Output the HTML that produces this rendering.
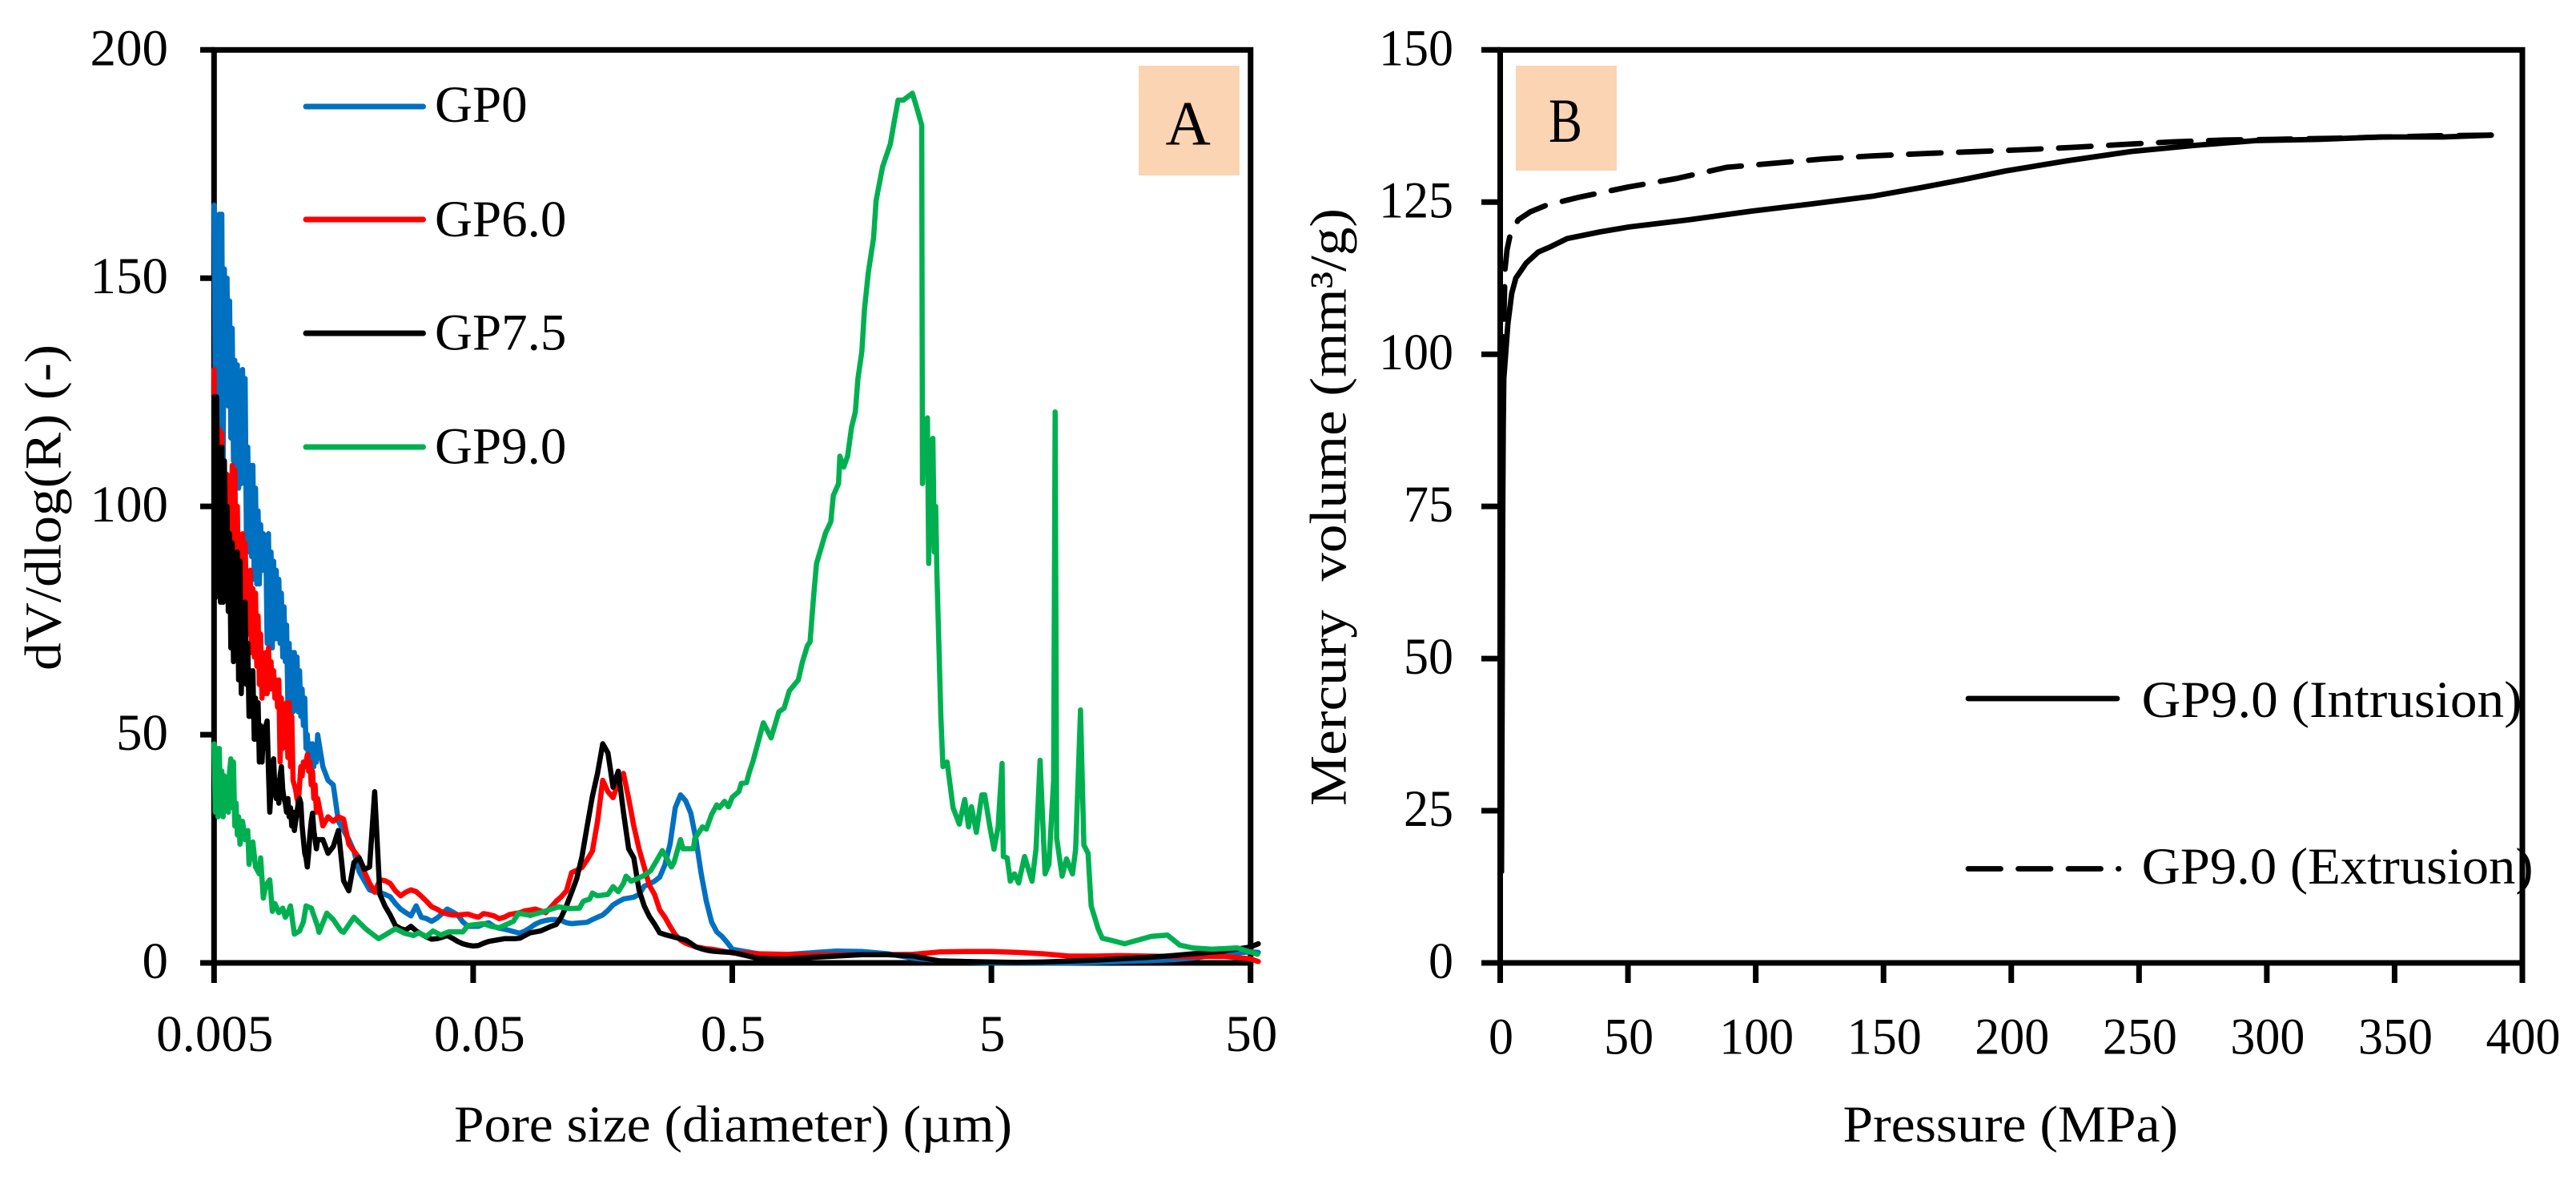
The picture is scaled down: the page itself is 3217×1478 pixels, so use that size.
<!DOCTYPE html>
<html lang="en">
<head>
<meta charset="utf-8">
<title>Pore size distribution and mercury intrusion</title>
<style>
html,body{margin:0;padding:0;background:#fff;}
svg{display:block;}
text{font-family:"Liberation Serif",serif;font-size:65px;fill:#000;}
</style>
</head>
<body>
<svg id="figure" xmlns="http://www.w3.org/2000/svg" width="3217" height="1478" viewBox="0 0 3217 1478">
  <rect x="0" y="0" width="3217" height="1478" fill="#fff"/>

  <g id="chart-a">
    <g id="a-ticks"></g>
    <rect x="267.3" y="62.3" width="1294.5" height="1139.7" fill="none" stroke="#000" stroke-width="7"/>
    <rect x="1422" y="82" width="126" height="137" fill="#fbd4b4"/>
    <text x="1483.7" y="180.7" text-anchor="middle" style="font-size:78px">A</text>
    <g id="a-series"></g>
    <g>
      <line x1="382" y1="133" x2="528.5" y2="133" stroke="#0070c0" stroke-width="7" stroke-linecap="round"/>
      <text x="543" y="152">GP0</text>
      <line x1="382" y1="274" x2="528.5" y2="274" stroke="#ff0000" stroke-width="7" stroke-linecap="round"/>
      <text x="543" y="295">GP6.0</text>
      <line x1="382" y1="416" x2="528.5" y2="416" stroke="#000" stroke-width="7" stroke-linecap="round"/>
      <text x="543" y="436.5">GP7.5</text>
      <line x1="382" y1="558" x2="528.5" y2="558" stroke="#00b050" stroke-width="7" stroke-linecap="round"/>
      <text x="543" y="578.5">GP9.0</text>
    </g>
    <text transform="translate(75.5,837) rotate(-90)" textLength="407" lengthAdjust="spacingAndGlyphs">dV/dlog(R) (-)</text>
    <text x="567" y="1425" textLength="697" lengthAdjust="spacingAndGlyphs">Pore size (diameter) (µm)</text>
  </g>

  <g id="chart-b">
    <g id="b-ticks"></g>
    <rect x="1873.5" y="62.3" width="1276.5" height="1139.7" fill="none" stroke="#000" stroke-width="7"/>
    <rect x="1893" y="82" width="126" height="131" fill="#fbd4b4"/>
    <text x="1955" y="177" text-anchor="middle" style="font-size:78px" textLength="42" lengthAdjust="spacingAndGlyphs">B</text>
    <g id="b-series"></g>
    <g>
      <line x1="2458" y1="872" x2="2644" y2="872" stroke="#000" stroke-width="6.8" stroke-linecap="round"/>
      <text x="2674.6" y="895" textLength="475" lengthAdjust="spacingAndGlyphs">GP9.0 (Intrusion)</text>
      <line x1="2458" y1="1084.5" x2="2646" y2="1084.5" stroke="#000" stroke-width="6.8" stroke-linecap="round" stroke-dasharray="40.5 22"/>
      <text x="2674.6" y="1103" textLength="489" lengthAdjust="spacingAndGlyphs">GP9.0 (Extrusion)</text>
    </g>
    <text transform="translate(1680.6,1006) rotate(-90)" textLength="746" lengthAdjust="spacingAndGlyphs" style="white-space:pre">Mercury  volume (mm³/g)</text>
    <text x="2301.5" y="1425" textLength="418.5" lengthAdjust="spacingAndGlyphs">Pressure (MPa)</text>
  </g>
</svg>

<script>
// Chart A: x values are decades above 0.005 µm, i.e. log10(diameter / 0.005)
const poreDecades = [
0,.005,.01,.015,.02,.025,.03,.035,.04,.045,
.05,.055,.06,.065,.07,.075,.08,.085,.09,.095,
.1,.105,.11,.115,.12,.125,.13,.135,.14,.145,
.15,.155,.16,.165,.17,.175,.18,.185,.19,.195,
.2,.205,.21,.215,.22,.225,.23,.235,.24,.245,
.25,.255,.26,.265,.27,.275,.28,.285,.29,.295,
.3,.305,.31,.315,.32,.325,.33,.335,.34,.345,
.35,.355,.36,.365,.37,.375,.38,.385,.39,.395,
.4,
.42,.44,.46,.48,.5,.52,.54,.56,.58,.6,
.62,.64,.66,.68,.7,.72,.74,.76,.78,.8,
.82,.84,.86,.88,.9,.92,.94,.96,.98,1,
1.02,1.04,1.06,1.08,1.1,1.12,1.14,1.16,1.18,1.2,
1.22,1.24,1.26,1.28,1.3,1.32,1.34,1.36,1.38,1.4,
1.42,1.44,1.46,1.48,1.5,1.52,1.54,1.56,1.58,1.6,
1.62,1.64,1.66,1.68,1.7,1.72,1.74,1.76,1.78,1.8,
1.82,1.84,1.86,1.88,1.9,1.92,1.94,1.96,1.98,2,
2.1,2.2,2.3,2.4,2.5,2.6,2.7,2.8,2.9,3,3.1,3.2,3.3,3.4,3.5,3.6,3.7,3.8,3.9,4,4.03
];
const gp0Values = [
166,125,158,120,164,110,164,108,152,124,
150,122,145,115,139,110,132,108,131,104,
128,105,130,115,128,92,113,90,109,89,
109,84,104,83,99,83,96,86,94,86,
92,70,94,69,90,69,88,71,86,71,
84,70,81,67,78,66,74,57,70,56,
68,55,68,57,67,55,64,54,60,52,
58,47,50,44,48,43,48,43,46,44,
50,
43,40,39,31,29,27,24.5,20,18,16,
15.6,15.4,15,14.5,13,11.8,11,10.3,12.5,10,
9.7,9.1,9.8,10.8,11.8,11.2,10.5,9,8,8,
8,8.5,8.8,8,7.6,7.4,7.1,6.8,6.5,7,
7.7,8.5,9,9.3,9.5,9.5,9.3,8.8,8.6,8.7,
8.8,8.9,9.5,10,10.5,11.5,12.7,13.4,14,14.2,
14.4,15,16.8,17.3,17.9,18.8,21.5,26,34,36.8,
35.5,32.8,27,19.5,13.5,9,6.8,5.8,4.5,3,
2,1.8,2.2,2.6,2.5,2,1,.5,.3,0,0,0,0,.1,.3,.5,.7,1.2,2,2.4,2.3
];
const gp6Values = [
130,96,118,90,117,92,116,86,107,88,
107,92,106,80,109,85,108,87,100,78,
90,74,94,80,92,79,84,72,86,68,
82,67,81,65,76,61,72,58,66,59,
68,59,69,60,66,60,64,58,62,56,
62,44,58,47,52,48,57,45,57,43,
54,40,39,38,36,35,39,43,41,44,
43,44,45.6,42,44,39,42,36,39,33,
36,
30,32,31,32,31.5,26,24.5,23,20,17.5,
15.5,18.2,18,17.4,15.8,14.7,15.5,16,15.6,14.6,
13.5,12.3,11.8,11.1,10.7,10.5,10.5,10.6,10.7,10.3,
10,10.8,10.6,10.3,9.7,10,10.6,10.8,11,11.4,
11.6,11.8,11.4,11,12.2,13.5,14.5,15.8,19.8,20.3,
20.9,22.6,24.5,31,40,37.5,36.2,39.5,41.5,36,
30,25,21,17,15,11.6,10,8,6.2,5,
4.3,3.9,3.5,3.3,3.1,3,2.8,2.6,2.4,2.2,
2,1.9,1.8,1.8,1.8,1.8,1.9,2.4,2.5,2.5,2.3,2,1.5,1.5,1.6,1.5,1.4,1.4,1.4,.9,.3
];
const gp75Values = [
124,80,124,83,108,79,113,79,110,85,
100,77,94,69,92,66,85,70,90,62,
88,59,72,62,79,61,70,54,64,54,
64,49,58,49,57,44,52,44,50,47,
52,53,42,33,38,43,44.7,38,36,40,
35,41,43,38,36,35,33,36,32,34,
30,33,29,31,33,35,36,35,30,27,
24,23,21,24,28,31,32.8,29,27,25,
27,
27,24,25.5,29,18,15.8,22,23,20.5,21,
37.5,15,12.4,10.5,8.2,7.5,7.2,8,7,6.3,
5.7,5.2,5.3,5.6,6,5.4,4.7,4.2,3.9,3.7,
3.8,4.3,4.7,4.9,5.1,5.3,5.3,5.3,5.4,6,
6.6,6.8,7,7.5,8,8.4,10,12.5,15.5,18.5,
23.3,30,36.5,41.5,48,46,38.5,42,33,25,
23,16,12.5,10.2,8.5,6.6,6.2,5.9,5.6,5.3,
5,4.3,3.5,3.1,2.8,2.6,2.5,2.4,2.35,2.3,
1,.8,1.2,1.5,1.8,1.8,1.5,.4,.3,.2,.1,.2,.4,.6,.9,1.2,1.6,2.1,2.6,3.5,4.2
];
const gp9PoreDecades = [
0,.005,.01,.015,.02,.025,.03,.035,.04,.045,
.05,.055,.06,.065,.07,.075,.08,.085,.09,.095,
.1,.11,.12,.13,.135,.145,.15,.16,.175,.18,
.19,.2,.215,.225,.235,.25,.265,.275,.285,.295,
.31,.33,.345,.355,.375,.4,.405,.435,.46,.49,
.5,.54,.585,.6,.635,.66,.7,.735,.77,.79,
.82,.845,.875,.905,.96,.98,1.04,1.07,1.1,1.155,
1.175,1.22,1.27,1.33,1.37,1.41,1.425,1.45,1.46,1.48,
1.52,1.54,1.56,1.58,1.59,1.61,1.655,1.685,1.71,1.73,
1.75,1.765,1.775,1.8,1.81,1.85,1.855,1.885,1.9,1.92,
1.94,1.95,1.97,1.985,2,2.025,2.035,2.055,2.065,2.08,
2.1,2.12,2.15,2.18,2.2,2.22,2.255,2.27,2.29,2.3,
2.315,2.325,2.36,2.38,2.39,2.41,2.415,2.43,2.445,2.46,
2.475,2.485,2.5,2.51,2.525,2.545,2.555,2.58,2.61,2.625,
2.64,2.66,2.695,2.71,2.731,2.734,2.74,2.745,2.753,2.758,
2.765,2.774,2.78,2.785,2.79,2.797,2.805,2.813,2.829,2.852,
2.876,2.897,2.912,2.923,2.942,2.963,2.974,2.994,3.01,3.026,
3.041,3.046,3.061,3.073,3.089,3.105,3.128,3.157,3.172,3.188,
3.207,3.222,3.24,3.246,3.252,3.273,3.29,3.313,3.325,3.344,
3.357,3.373,3.385,3.412,3.428,3.459,3.514,3.617,3.679,3.727,
3.775,3.852,3.948,4.027
];
const gp9Values = [
48,33,47,32,47,34,42,32,41,34,
40,33,42,44.7,34,44,30,35,28,32,
26,31,27,29,21.6,26,26.5,21,19.5,23,
14.2,17,18.2,11.3,13,11,12,10,11,12.5,
6.3,7,9,12.5,12,8,6.7,10.9,9.5,7,
6.7,10,7.5,6.8,5.3,6.1,7.5,6.5,6,6.6,
5.8,7,6.1,6.8,6.8,8.2,8.6,8,7.7,9.1,
10.9,10.4,11.2,12.3,11.9,12,13.5,14,15.3,14.7,
15,16.7,15.6,17.4,19,17.9,19,20.2,22.6,24.6,
22.6,21,22,27,25,25,27.2,29.8,29.3,32.5,
34.6,34,35.4,34.2,36.3,37.5,39.3,39.5,41.6,44.2,
48.4,52.6,49.3,55,55.8,59.6,62,65.8,69.5,70.3,
81,87.5,94.2,96.6,102.4,105,111,108.6,111,117.3,
120.7,128,133.9,143,151.3,158.7,167,174.4,179.4,184.4,
189,189,190.5,187.7,183.5,105,118,108,119.4,87.5,
110,114.9,90,100,85,70.3,53.9,43,44,34,
30.4,35.8,29.8,34.2,28.6,36.8,36.8,29.8,24.9,29.8,
43.7,23.3,23,17.9,19.5,17.5,23.3,17.9,24.9,44.4,
19.5,21.6,40,120.7,27.4,19,22.8,19.5,24.9,55.4,
25.8,24,12.5,7.5,5.4,5,4.2,5.8,6.1,3.9,
3.3,3,3.3,1.9
];
const aYTicks = [0, 50, 100, 150, 200];
const aXTickDecades = [0, 1, 2, 3, 4];
const aXTickLabels = ["0.005", "0.05", "0.5", "5", "50"];

// Chart B
const intrusionPressure = [
.5,.8,1,1.2,1.4,2.2,3,4.5,6.1,10.2,14.9,19.9,26.2,39,50.3,74.1,98.2,122,146.2,165,
181.3,197.6,222,246.6,271.2,295.7,320,344.5,369,387.8
];
const intrusionVolume = [
15,50,75,88,96,100.4,105,110,112.5,115,116.8,117.7,119,120.1,120.9,122.1,123.5,124.7,126,127.4,
128.7,130.1,131.8,133.3,134.3,135.1,135.3,135.7,135.7,136
];
const extrusionPressure = [
387.8,367.4,328.2,302,283.4,263.7,244.9,224.5,205,186.3,167.5,146.2,126.9,107.6,88.5,
69.4,50.3,30.9,18.2,11.8,7.1,4.1,2.7,1.9,1.4,1
];
const extrusionVolume = [
136,135.9,135.5,135.3,135.2,134.9,134.5,134,133.6,133.3,133,132.6,132.1,131.4,130.7,
128.9,127.5,125.8,124.5,123.4,122.1,120,117.2,114.1,105.4,100
];
const bYTicks = [0, 25, 50, 75, 100, 125, 150];
const bXTicks = [0, 50, 100, 150, 200, 250, 300, 350, 400];

const SVG_NS = 'http://www.w3.org/2000/svg';
const PLOT_TOP = 62.3, PLOT_BOTTOM = 1202;
const A_LEFT = 267.3, A_RIGHT = 1561.7, B_LEFT = 1873.5, B_RIGHT = 3150;

function xA(decades) { return A_LEFT + decades / 4 * (A_RIGHT - A_LEFT); }
function yA(value) { return PLOT_BOTTOM - value / 200 * (PLOT_BOTTOM - PLOT_TOP); }
function xB(pressure) { return B_LEFT + pressure / 400 * (B_RIGHT - B_LEFT); }
function yB(volume) { return PLOT_BOTTOM - volume / 150 * (PLOT_BOTTOM - PLOT_TOP); }

function pathFrom(xs, ys, xFn, yFn) {
  let d = '';
  const n = Math.min(xs.length, ys.length);
  for (let i = 0; i < n; i++) {
    d += (i ? 'L' : 'M') + xFn(xs[i]).toFixed(1) + ' ' + yFn(ys[i]).toFixed(1);
  }
  return d;
}
function styleLine(el, x1, y1, x2, y2) {
  el.setAttribute('x1', x1);
  el.setAttribute('y1', y1);
  el.setAttribute('x2', x2);
  el.setAttribute('y2', y2);
  el.setAttribute('stroke', '#000');
  el.setAttribute('stroke-width', 7);
}

const aTicks = document.getElementById('a-ticks');
const bTicks = document.getElementById('b-ticks');
const aSeries = document.getElementById('a-series');
const bSeries = document.getElementById('b-series');

// Chart A ticks
aYTicks.forEach(function (v) {
  const tick = document.createElementNS(SVG_NS, 'line');
  
  
  styleLine(tick, 250, yA(v), A_LEFT, yA(v));
  aTicks.appendChild(tick);
  const label = document.createElementNS(SVG_NS, 'text');
  
  
  label.setAttribute('x', 210);
  label.setAttribute('y', yA(v) + 19);
  label.setAttribute('text-anchor', 'end');
  label.textContent = String(v);
  aTicks.appendChild(label);
});
aXTickDecades.forEach(function (v, i) {
  const tick = document.createElementNS(SVG_NS, 'line');
  
  
  styleLine(tick, xA(v), PLOT_BOTTOM, xA(v), 1227);
  aTicks.appendChild(tick);
  const label = document.createElementNS(SVG_NS, 'text');
  
  
  label.setAttribute('x', xA(v) + (i === 1 ? 8 : 1));
  label.setAttribute('y', 1312);
  label.setAttribute('text-anchor', 'middle');
  label.textContent = aXTickLabels[i];
  aTicks.appendChild(label);
});

// Chart A series (drawing order: blue, red, black, green)
const gp0Line = document.createElementNS(SVG_NS, 'path');


gp0Line.setAttribute('d', pathFrom(poreDecades, gp0Values, xA, yA));
gp0Line.setAttribute('stroke', '#0070c0');
aSeries.appendChild(gp0Line);

const gp6Line = document.createElementNS(SVG_NS, 'path');


gp6Line.setAttribute('d', pathFrom(poreDecades, gp6Values, xA, yA));
gp6Line.setAttribute('stroke', '#ff0000');
aSeries.appendChild(gp6Line);

const gp75Line = document.createElementNS(SVG_NS, 'path');


gp75Line.setAttribute('d', pathFrom(poreDecades, gp75Values, xA, yA));
gp75Line.setAttribute('stroke', '#000000');
aSeries.appendChild(gp75Line);

const gp9Line = document.createElementNS(SVG_NS, 'path');


gp9Line.setAttribute('d', pathFrom(gp9PoreDecades, gp9Values, xA, yA));
gp9Line.setAttribute('stroke', '#00b050');
aSeries.appendChild(gp9Line);

[gp0Line, gp6Line, gp75Line, gp9Line].forEach(function (p) {
  p.setAttribute('fill', 'none');
  p.setAttribute('stroke-width', 6.5);
  p.setAttribute('stroke-linejoin', 'round');
  p.setAttribute('stroke-linecap', 'round');
});

// Chart B ticks
bYTicks.forEach(function (v) {
  const tick = document.createElementNS(SVG_NS, 'line');
  
  
  styleLine(tick, 1850, yB(v), B_LEFT, yB(v));
  bTicks.appendChild(tick);
  const label = document.createElementNS(SVG_NS, 'text');
  
  
  label.setAttribute('x', 1815);
  label.setAttribute('y', yB(v) + 19);
  label.setAttribute('text-anchor', 'end');
  label.setAttribute('textLength', String(v).length * 31);
  label.setAttribute('lengthAdjust', 'spacingAndGlyphs');
  label.textContent = String(v);
  bTicks.appendChild(label);
});
bXTicks.forEach(function (v) {
  const tick = document.createElementNS(SVG_NS, 'line');
  
  
  styleLine(tick, xB(v), PLOT_BOTTOM, xB(v), 1227);
  bTicks.appendChild(tick);
  const label = document.createElementNS(SVG_NS, 'text');
  
  
  label.setAttribute('x', xB(v) + 1);
  label.setAttribute('y', 1315.5);
  label.setAttribute('text-anchor', 'middle');
  label.setAttribute('textLength', String(v).length * 31);
  label.setAttribute('lengthAdjust', 'spacingAndGlyphs');
  label.textContent = String(v);
  bTicks.appendChild(label);
});

// Chart B series
const extrusionLine = document.createElementNS(SVG_NS, 'path');


extrusionLine.setAttribute('d', pathFrom(extrusionPressure, extrusionVolume, xB, yB));
extrusionLine.setAttribute('stroke-dasharray', '40.5 22');
bSeries.appendChild(extrusionLine);

const intrusionLine = document.createElementNS(SVG_NS, 'path');


intrusionLine.setAttribute('d', pathFrom(intrusionPressure, intrusionVolume, xB, yB));
bSeries.appendChild(intrusionLine);

[extrusionLine, intrusionLine].forEach(function (p) {
  p.setAttribute('fill', 'none');
  p.setAttribute('stroke', '#000');
  p.setAttribute('stroke-width', 6.8);
  p.setAttribute('stroke-linejoin', 'round');
  p.setAttribute('stroke-linecap', 'round');
});
</script>
</body>
</html>
